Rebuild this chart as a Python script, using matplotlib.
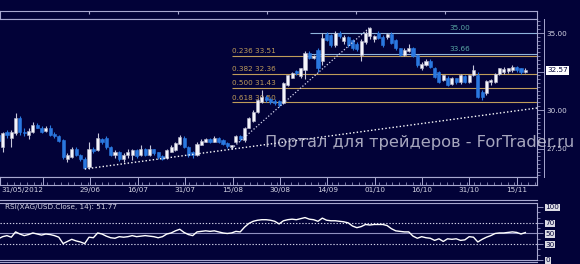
import matplotlib.pyplot as plt
import numpy as np
from matplotlib.lines import Line2D
from matplotlib.transforms import blended_transform_factory

# ---- data ----
opens = [28.4, 27.6, 28.55, 28.2, 28.5, 29.5, 28.55, 28.4, 28.6, 29.05,
         28.85, 28.65, 28.8, 28.45, 28.3, 28.05, 26.85, 26.95, 27.5, 27.1,
         26.85, 26.3, 27.5, 27.4, 28.15, 28.2, 27.6, 27.1, 27.3, 26.8,
         27.1, 27.05, 27.4, 27.05, 27.5, 27.1, 27.45, 27.25, 27.0, 26.9,
         27.3, 27.4, 27.8, 28.2, 27.6, 27.3, 27.05, 27.75, 27.95, 28.15,
         27.95, 28.2, 28.05, 27.85, 27.6, 27.9, 28.3, 28.05, 28.85, 29.3,
         29.85, 30.5, 30.85, 30.7, 30.6, 30.6, 30.45, 31.6, 32.1, 32.55,
         32.2, 32.6, 33.7, 33.4, 33.9, 33.2, 34.95, 34.85, 34.2, 35.0,
         34.5, 34.75, 34.55, 34.3, 33.6, 34.4, 34.8, 34.6, 35.0, 34.75,
         34.75, 34.95, 34.55, 34.0, 33.6, 33.8, 34.0, 33.55, 32.7, 32.9,
         33.2, 32.75, 32.5, 31.95, 32.1, 31.7, 32.05, 31.8, 32.2, 31.8,
         32.3, 32.3, 31.15, 31.1, 31.8, 31.8, 32.35, 32.5, 32.55, 32.6,
         32.8, 32.7, 32.45]
highs = [28.5, 28.6, 28.7, 28.7, 29.8, 29.6, 28.8, 28.8, 29.2, 29.15,
         28.95, 28.95, 29.0, 28.6, 28.4, 28.1, 27.2, 27.6, 27.6, 27.15,
         26.95, 27.9, 27.6, 28.5, 28.2, 28.3, 27.65, 27.4, 27.35, 27.2,
         27.45, 27.5, 27.45, 27.7, 27.55, 27.7, 27.5, 27.3, 27.1, 27.45,
         27.7, 27.95, 28.35, 28.3, 27.65, 27.35, 27.9, 28.1, 28.2, 28.2,
         28.3, 28.25, 28.1, 27.9, 27.75, 28.35, 28.35, 28.9, 29.55, 30.0,
         30.7, 31.3, 30.95, 30.8, 30.7, 30.65, 31.8, 32.3, 32.5, 32.6,
         32.75, 33.8, 33.85, 33.6, 34.0, 35.0, 35.05, 34.95, 35.1, 35.1,
         34.85, 34.8, 34.6, 34.4, 34.6, 35.1, 35.37, 34.9, 35.1, 34.85,
         35.0, 35.05, 34.6, 34.05, 34.0, 34.3, 34.1, 33.6, 33.1, 33.3,
         33.3, 32.8, 32.55, 32.3, 32.2, 32.15, 32.1, 32.35, 32.25, 32.3,
         32.95, 32.45, 31.3, 31.95, 32.0, 32.4, 32.75, 32.8, 32.75, 32.9,
         32.85, 32.75, 32.7]
lows = [27.9, 27.3, 28.2, 27.6, 28.4, 28.4, 28.3, 28.1, 28.5, 28.8,
        28.5, 28.55, 28.3, 28.2, 27.9, 26.85, 26.6, 26.9, 27.0, 26.7,
        26.15, 26.2, 27.2, 27.35, 27.8, 27.5, 27.0, 26.9, 26.7, 26.6,
        26.9, 26.75, 26.9, 27.0, 27.0, 27.0, 27.1, 26.8, 26.75, 26.85,
        27.25, 27.35, 27.75, 27.55, 26.95, 26.9, 27.0, 27.7, 27.9, 27.85,
        27.9, 27.85, 27.7, 27.55, 27.49, 27.85, 28.0, 27.95, 28.8, 29.2,
        29.8, 30.45, 30.55, 30.4, 30.3, 30.2, 30.4, 31.55, 32.05, 32.3,
        32.1, 32.0, 33.3, 33.3, 32.5, 32.9, 34.45, 34.1, 34.1, 34.7,
        34.3, 34.1, 33.9, 33.8, 33.2, 34.3, 34.6, 34.4, 34.6, 34.1,
        34.6, 34.3, 33.9, 33.5, 33.5, 33.75, 33.45, 32.8, 32.6, 32.85,
        32.7, 32.1, 31.75, 31.9, 31.55, 31.6, 31.7, 31.7, 31.75, 31.75,
        32.2, 30.8, 30.65, 31.0, 31.6, 31.75, 32.3, 32.35, 32.4, 32.5,
        32.5, 32.35, 32.4]
closes = [28.0, 28.5, 28.35, 28.6, 29.5, 28.55, 28.5, 28.65, 29.05, 28.85,
          28.6, 28.8, 28.4, 28.3, 28.0, 26.95, 27.05, 27.5, 27.1, 26.8,
          26.25, 27.5, 27.35, 28.2, 27.95, 27.6, 27.1, 27.3, 26.8, 27.1,
          27.3, 27.4, 27.0, 27.5, 27.1, 27.45, 27.2, 26.95, 26.85, 27.4,
          27.6, 27.85, 28.25, 27.6, 27.05, 27.05, 27.8, 28.0, 28.15, 27.95,
          28.2, 27.95, 27.8, 27.65, 27.7, 28.3, 28.1, 28.85, 29.5, 29.9,
          30.65, 30.85, 30.65, 30.5, 30.45, 30.35, 31.75, 32.25, 32.4, 32.4,
          32.7, 33.7, 33.4, 33.5, 32.75, 34.7, 34.55, 34.2, 35.0, 34.8,
          34.75, 34.2, 34.0, 33.95, 34.5, 35.0, 35.3, 34.8, 34.7, 34.2,
          34.95, 34.35, 34.0, 33.6, 33.9, 34.05, 33.5, 32.9, 33.0, 33.2,
          32.8, 32.15, 31.85, 32.25, 31.65, 32.1, 31.8, 32.3, 31.85, 32.27,
          32.6, 30.85, 30.85, 31.9, 31.95, 32.35, 32.7, 32.65, 32.7, 32.8,
          32.6, 32.45, 32.57]
rsi = [40, 44, 46, 43, 53, 49, 46, 48, 51, 49,
       47, 49, 48, 46, 43, 31, 35, 39, 36, 34,
       31, 43, 42, 51, 49, 45, 42, 41, 44, 43,
       44, 46, 44, 45, 46, 45, 44, 42, 44, 49,
       51, 55, 58, 52, 48, 46, 53, 54, 55, 54,
       55, 53, 51, 50, 51, 54, 53, 62, 69, 73,
       75, 76, 76, 75, 73, 68, 74, 76, 77, 76,
       78, 80, 77, 76, 73, 79, 75, 74, 74, 73,
       72, 70, 64, 61, 63, 67, 66, 67, 67, 67,
       65, 59, 55, 54, 53, 53, 45, 41, 44, 42,
       41, 37, 40, 35, 40, 39, 40, 37, 38, 44,
       43, 34, 39, 43, 46, 50, 51, 51, 52, 53,
       52, 49, 51.77]

date_ticks = [21, 32, 43, 54, 65, 76, 87, 98, 109, 120]
date_labels = ['29/06', '16/07', '31/07', '15/08', '30/08', '14/09',
               '01/10', '16/10', '31/10', '15/11']
first_date = '31/05/2012'

fib_levels = [33.51, 32.36, 31.43, 30.50]
fib_names = ['0.236', '0.382', '0.500', '0.618']
pivot_levels = [35.00, 33.66]
trend_lows = ([20, 124.7], [26.17, 30.13])
trend_fib = ([54, 86], [27.49, 35.37])
last_price = 32.57

# ---- style ----
BG = '#020238'
EDGE = '#a8a8d0'
TXT = '#d4d4e4'
BLUE = '#2a78e0'
GOLD = '#bf9c5a'
W, H = 580, 264
XL = (0.39, 124.7)
FS = 5.2

plt.rcParams['font.family'] = 'DejaVu Sans'


def box(x0, y0, x1, y1):
    return [x0 / W, 1 - y1 / H, (x1 - x0) / W, (y1 - y0) / H]


def hline(y, x0=0, x1=537, lw=0.8, color=EDGE):
    fig.add_artist(Line2D([x0 / W, x1 / W], [1 - y / H] * 2,
                          transform=fig.transFigure, color=color, lw=lw))


fig = plt.figure(figsize=(W / 100, H / 100), dpi=100)
fig.patch.set_facecolor(BG)

###### top strip ######
axs = fig.add_axes(box(0, 11, 537, 19))
axs.set_facecolor(BG)
axs.set_xlim(0, 537)
axs.set_yticks([])
axs.set_xticks([89, 178, 267, 356, 445])
axs.tick_params(axis='x', which='both', top=True, bottom=False, direction='in',
                length=2.5, color=EDGE, labelbottom=False)
for s in axs.spines.values():
    s.set_color(EDGE)
    s.set_linewidth(0.8)

###### main price panel ######
ax = fig.add_axes(box(0, 19, 537, 177))
ax.set_facecolor(BG)
ax.set_xlim(XL)
ax.set_ylim(25.65, 35.91)
for s in ax.spines.values():
    s.set_color(EDGE)
    s.set_linewidth(0.8)
ax.spines['left'].set_visible(False)

x = np.arange(len(closes))
o = np.array(opens)
c = np.array(closes)
up = c >= o
cols = np.where(up, '#f4f4fa', BLUE)
wick_cols = np.where(up, '#c8c8dc', BLUE)
ax.vlines(x, lows, highs, colors=wick_cols, lw=0.8, zorder=3)
body_h = np.maximum(np.abs(c - o), 0.05)
ax.bar(x, body_h, bottom=np.minimum(o, c), width=0.72, color=cols,
       edgecolor=np.where(up, '#b8b8cc', BLUE), linewidth=0.4, zorder=4)

# fibonacci lines
for lvl, name in zip(fib_levels, fib_names):
    ax.hlines(lvl, 54.1, XL[1], colors=GOLD, lw=0.8, zorder=2)
    ax.text(54.2, lvl + 0.1, f'{name} {lvl:.2f}', color=GOLD, fontsize=FS,
            va='bottom', ha='left', zorder=2)
for lvl in pivot_levels:
    ax.hlines(lvl, 72.2, XL[1], colors='#8fb4dc', lw=0.8, zorder=2)
    ax.text(106.9, lvl + 0.12, f'{lvl:.2f}', color='#5aa8a4', fontsize=FS,
            va='bottom', ha='center', zorder=2)

# dotted trend lines
ax.plot(*trend_lows, color='white', lw=1.0, ls=(0, (1, 1.6)), zorder=5)
ax.plot(*trend_fib, color='#d8d8f0', lw=0.9, ls=(0, (1, 1.6)), zorder=5)

# right price axis
ax.yaxis.tick_right()
ax.set_yticks([27.5, 30.0, 32.5, 35.0])
ax.set_yticklabels(['27.50', '30.00', '', '35.00'])
ax.set_yticks(np.arange(25.75, 35.9, 0.25), minor=True)
ax.tick_params(axis='y', which='major', direction='out', length=5, width=0.6,
               color=EDGE, labelcolor=TXT, labelsize=FS, pad=1.5)
ax.tick_params(axis='y', which='minor', direction='out', length=2.5, width=0.5,
               color=EDGE)
ax.set_xticks([])
tr = blended_transform_factory(ax.transAxes, ax.transData)
ax.text(1.019, last_price, f'{last_price:.2f}', transform=tr, fontsize=FS,
        color=BG, va='center', ha='left',
        bbox=dict(facecolor='white', edgecolor='none', pad=0.8))

###### date strip ######
axd = fig.add_axes(box(0, 177, 537, 185))
axd.set_facecolor(BG)
axd.set_xlim(XL)
axd.set_yticks([])
axd.set_xticks([10] + date_ticks)
axd.set_xticklabels([''] + date_labels)
axd.set_xticks(np.arange(0, 125, 11 / 7), minor=True)
axd.tick_params(axis='x', which='major', direction='in', length=5.8, width=0.7,
                color=EDGE, labelcolor=TXT, labelsize=FS, pad=1.5)
axd.tick_params(axis='x', which='minor', direction='in', length=2, width=0.5,
                color=EDGE)
for s in axd.spines.values():
    s.set_color(EDGE)
    s.set_linewidth(0.8)
axd.text(0.002, -0.19, first_date, transform=axd.transAxes, ha='left', va='top',
         color=TXT, fontsize=FS)

###### RSI panel ######
axr = fig.add_axes(box(0, 203, 537, 260))
axr.set_facecolor(BG)
axr.set_xlim(XL)
axr.set_ylim(0, 107.5)
for s in axr.spines.values():
    s.set_color(EDGE)
    s.set_linewidth(0.8)
axr.spines['left'].set_visible(False)
axr.axhline(70, color='#d0d0e8', lw=0.8, ls=(0, (1.2, 1.6)))
axr.axhline(30, color='#d0d0e8', lw=0.8, ls=(0, (1.2, 1.6)))
axr.axhline(50, color='#9090c0', lw=0.8)
axr.plot(x, rsi, color='white', lw=1.0, zorder=3)
axr.set_xticks([])
axr.yaxis.tick_right()
axr.set_yticks([0, 30, 50, 70, 100])
axr.set_yticklabels(['0', '30', '50', '70', '100'])
axr.set_yticks(np.arange(0, 101, 10), minor=True)
axr.tick_params(axis='y', which='major', direction='out', length=4, width=0.6,
                color=EDGE, labelcolor=BG, labelsize=FS, pad=2)
axr.tick_params(axis='y', which='minor', direction='out', length=2, width=0.5,
                color=EDGE)
for lab in axr.get_yticklabels():
    lab.set_bbox(dict(facecolor='#dcdce4', edgecolor='none', pad=0.4))
axr.text(0.01, 0.985, f'RSI(XAG/USD.Close, 14): {rsi[-1]:.2f}',
         transform=axr.transAxes, ha='left', va='top', color=TXT, fontsize=FS)

# panel double borders
hline(200)
hline(262)
fig.add_artist(Line2D([544 / W] * 2, [1 - 19 / H, 1 - 177 / H],
                      transform=fig.transFigure, color=EDGE, lw=0.7))

# watermark
fig.text(265 / W, 1 - 147 / H, 'Портал для трейдеров - ForTrader.ru',
         fontsize=11.7, color='#d0d0e0', alpha=0.8, ha='left', va='baseline',
         zorder=10)

fig.savefig('out.png', dpi=100, facecolor=BG)
